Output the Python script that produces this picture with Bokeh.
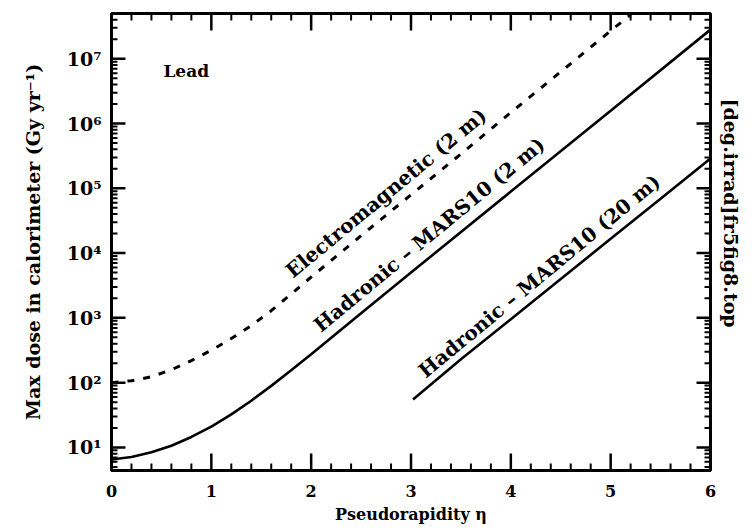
import math
from bokeh.plotting import figure
from bokeh.models import Range1d, FixedTicker, Title
from bokeh.core.properties import value
from bokeh.embed import file_html
from bokeh.resources import INLINE

# ---- data ----
em_x = [0.0, 0.2, 0.4, 0.6, 0.8, 1.0, 1.2, 1.4, 1.6, 1.8, 2.0, 2.5, 3.0, 3.5, 4.0, 4.5, 5.0, 5.2]
em_y = [100, 107, 123, 158, 219, 316, 479, 759, 1290, 2340, 4270, 18600, 79400, 339000,
        1.48e6, 6.3e6, 2.7e7, 4.8e7]

had2_x = [0.0, 0.2, 0.4, 0.6, 0.8, 1.0, 1.2, 1.4, 1.6, 1.8, 2.0, 2.5, 3.0, 4.0, 5.0, 6.0]
had2_y = [6.5, 7.1, 8.4, 10.6, 14.5, 20.9, 32.4, 52.5, 89.1, 155, 275, 1175, 5010, 89100,
          1.58e6, 2.82e7]

had20_x = [3.02, 3.5, 4.0, 4.5, 5.0, 5.5, 6.0]
had20_y = [55, 229, 955, 3980, 16600, 69200, 288000]

curve_labels = ["Electromagnetic (2 m)", "Hadronic \u2013 MARS10 (2 m)", "Hadronic \u2013 MARS10 (20 m)"]
label_x = [1.85, 2.13, 3.18]
label_y = [3500, 510, 100]

x_ticks = [0, 1, 2, 3, 4, 5, 6]
x_minor = [i / 5 for i in range(31) if i % 5 != 0]
y_ticks = [10, 100, 1000, 10000, 100000, 1000000, 10000000]
y_tick_labels = ["10\u00b9", "10\u00b2", "10\u00b3", "10\u2074", "10\u2075", "10\u2076", "10\u2077"]
y_minor = [m * 10 ** k for k in range(0, 8) for m in range(2, 10) if 4.4 < m * 10 ** k < 5e7]

X0, X1 = 0.0, 6.0
Y0, Y1 = 4.4, 5e7
FONT = "DejaVu Serif"

FRAME_W, FRAME_H = 600, 457
BL, BR, BT, BB = 111, 41, 13, 57
p = figure(width=BL + FRAME_W + BR, height=BT + FRAME_H + BB,
           x_range=Range1d(X0, X1), y_range=Range1d(Y0, Y1),
           y_axis_type="log", output_backend="svg", toolbar_location=None,
           min_border_left=BL, min_border_right=BR, min_border_top=BT, min_border_bottom=BB)

p.xgrid.visible = False
p.ygrid.visible = False
p.outline_line_color = "black"
p.outline_line_width = 3
p.background_fill_color = "white"
p.border_fill_color = "white"

# inward ticks on all four sides, lengths given in screen pixels
px_per_x = FRAME_W / (X1 - X0)
px_per_dec = FRAME_H / math.log10(Y1 / Y0)


def vfac(px):
    return 10 ** (px / px_per_dec)


def hlen(px):
    return px / px_per_x


kw_major = dict(line_color="black", line_width=2.5)
kw_minor = dict(line_color="black", line_width=2)
n = len(x_ticks)
p.segment(x0=x_ticks, y0=[Y0] * n, x1=x_ticks, y1=[Y0 * vfac(17)] * n, **kw_major)
p.segment(x0=x_ticks, y0=[Y1] * n, x1=x_ticks, y1=[Y1 / vfac(17)] * n, **kw_major)
m = len(x_minor)
p.segment(x0=x_minor, y0=[Y0] * m, x1=x_minor, y1=[Y0 * vfac(7)] * m, **kw_minor)
p.segment(x0=x_minor, y0=[Y1] * m, x1=x_minor, y1=[Y1 / vfac(7)] * m, **kw_minor)
k = len(y_ticks)
p.segment(x0=[X0] * k, y0=y_ticks, x1=[X0 + hlen(14)] * k, y1=y_ticks, **kw_major)
p.segment(x0=[X1] * k, y0=y_ticks, x1=[X1 - hlen(14)] * k, y1=y_ticks, **kw_major)
j = len(y_minor)
p.segment(x0=[X0] * j, y0=y_minor, x1=[X0 + hlen(6)] * j, y1=y_minor, **kw_minor)
p.segment(x0=[X1] * j, y0=y_minor, x1=[X1 - hlen(6)] * j, y1=y_minor, **kw_minor)

p.line(em_x, em_y, line_color="black", line_width=3, line_dash="7 9")
p.line(had2_x, had2_y, line_color="black", line_width=2.6)
p.line(had20_x, had20_y, line_color="black", line_width=2.6)

p.text(x=label_x, y=label_y, text=curve_labels, angle=0.69, text_font=value(FONT),
       text_font_style="bold", text_font_size="20px", text_baseline="bottom",
       text_align="left", text_color="black")

p.text(x=[0.52], y=[4.6e6], text=["Lead"], text_font=value(FONT), text_font_style="bold",
       text_font_size="17px", text_baseline="bottom", text_align="left", text_color="black")

side = Title(text="[deg.irrad]fr5fig8.top", align="left", offset=85,
             text_font=FONT, text_font_style="bold", text_font_size="19px",
             text_color="black", standoff=18)
p.add_layout(side, "right")

# bottom x axis
xa = p.xaxis[0]
xa.ticker = FixedTicker(ticks=x_ticks)
xa.axis_label = "Pseudorapidity \u03b7"
xa.axis_label_text_font = FONT
xa.axis_label_text_font_style = "bold"
xa.axis_label_text_font_size = "16px"
xa.major_label_text_font = FONT
xa.major_label_text_font_style = "bold"
xa.major_label_text_font_size = "16px"
xa.major_label_standoff = 14
xa.axis_label_standoff = 5

# left y axis
ya = p.yaxis[0]
ya.ticker = FixedTicker(ticks=y_ticks, minor_ticks=y_minor)
ya.major_label_overrides = dict(zip(y_ticks, y_tick_labels))
ya.axis_label = "Max dose in calorimeter (Gy yr\u207b\u00b9)"
ya.axis_label_text_font = FONT
ya.axis_label_text_font_style = "bold"
ya.axis_label_text_font_size = "19px"
ya.major_label_text_font = FONT
ya.major_label_text_font_style = "bold"
ya.major_label_text_font_size = "19px"
ya.major_label_standoff = 10
ya.axis_label_standoff = 20

for ax in [xa, ya]:
    ax.major_tick_in = 0
    ax.major_tick_out = 0
    ax.minor_tick_in = 0
    ax.minor_tick_out = 0
    ax.axis_line_width = 3
    ax.axis_line_color = "black"
    ax.major_label_text_color = "black"
    ax.axis_label_text_color = "black"

open("out.html", "w").write(file_html(p, INLINE))
